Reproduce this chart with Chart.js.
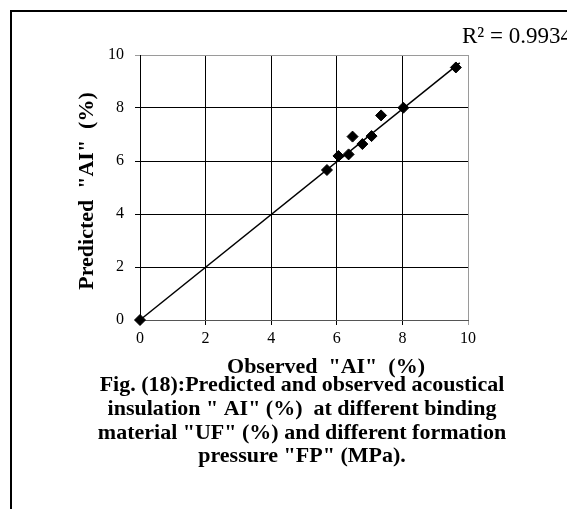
<!DOCTYPE html>
<html>
<head>
<meta charset="utf-8">
<script src="https://cdn.jsdelivr.net/npm/chart.js@4.4.1/dist/chart.umd.min.js"></script>
<style>
  html, body { margin: 0; padding: 0; background: #fff; }
  #wrap { width: 567px; height: 509px; position: relative; overflow: hidden; }
</style>
</head>
<body>
<div id="wrap"><canvas id="c" width="567" height="509"></canvas></div>
<script>
// Data
const observedAI  = [0, 5.70, 6.05, 6.36, 6.48, 6.78, 7.06, 7.35, 8.03, 9.63];
const predictedAI = [0, 5.66, 6.19, 6.25, 6.92, 6.64, 6.94, 7.72, 8.01, 9.53];
const trendX = [0, 9.75];
const trendY = [0, 9.70];
const axisTicks = [0, 2, 4, 6, 8, 10];
const rSquaredLabel = 'R² = 0.9934';
const xTitle = 'Observed  "AI"  (%)';
const yTitle = 'Predicted  "AI"  (%)';
const captionLines = [
  'Fig. (18):Predicted and observed acoustical',
  'insulation " AI" (%)  at different binding',
  'material "UF" (%) and different formation',
  'pressure "FP" (MPa).'
];

const SERIF = '"Liberation Serif", "Times New Roman", serif';

const pointData = observedAI.map((x, i) => ({ x: x, y: predictedAI[i] }));
const lineData = trendX.map((x, i) => ({ x: x, y: trendY[i] }));

const decorPlugin = {
  id: 'decor',
  afterDraw(chart) {
    const ctx = chart.ctx;
    ctx.save();
    // outer frame (top and left)
    ctx.fillStyle = '#000';
    ctx.fillRect(10, 10, 557, 2);
    ctx.fillRect(10, 10, 2, 499);

    // R² label
    ctx.fillStyle = '#000';
    ctx.font = '23px ' + SERIF;
    ctx.textAlign = 'left';
    ctx.textBaseline = 'alphabetic';
    ctx.fillText(rSquaredLabel, 462, 43);

    // x-axis title
    ctx.font = 'bold 22px ' + SERIF;
    ctx.textAlign = 'center';
    ctx.fillText(xTitle, 326, 373);

    // y-axis title (rotated)
    ctx.save();
    ctx.translate(93, 191);
    ctx.rotate(-Math.PI / 2);
    ctx.textAlign = 'center';
    ctx.fillText(yTitle, 0, 0);
    ctx.restore();

    // caption
    ctx.font = 'bold 22px ' + SERIF;
    ctx.textAlign = 'center';
    const baselines = [391, 415, 438.5, 462];
    captionLines.forEach((t, i) => ctx.fillText(t, 302, baselines[i]));
    ctx.restore();
  }
};

function gridColorX(c) {
  if (c.tick && c.tick.value === 10) return '#9a9a9a';
  return '#000';
}
function gridColorY(c) {
  if (c.tick && c.tick.value === 10) return '#9a9a9a';
  if (c.tick && c.tick.value === 0) return '#555';
  return '#000';
}

new Chart(document.getElementById('c'), {
  type: 'scatter',
  data: {
    datasets: [
      {
        label: 'points',
        data: pointData,
        pointStyle: 'rectRot',
        pointRadius: 5.5,
        pointBackgroundColor: '#000',
        pointBorderColor: '#000',
        pointBorderWidth: 1,
        showLine: false,
        clip: false,
        order: 0
      },
      {
        label: 'trend',
        data: lineData,
        showLine: true,
        borderColor: '#000',
        borderWidth: 1.5,
        pointRadius: 0,
        fill: false,
        clip: false,
        order: 1
      }
    ]
  },
  options: {
    responsive: false,
    animation: false,
    devicePixelRatio: 1,
    layout: { padding: { top: 55, right: 99, left: 0, bottom: 0 } },
    plugins: {
      legend: { display: false },
      tooltip: { enabled: false },
      title: { display: false }
    },
    scales: {
      x: {
        type: 'linear',
        min: 0, max: 10,
        afterBuildTicks: s => { s.ticks = axisTicks.map(v => ({ value: v })); },
        afterFit: s => { s.height = 189; },
        ticks: {
          color: '#000',
          font: { family: SERIF, size: 16 },
          padding: 4,
          maxRotation: 0
        },
        grid: { color: gridColorX, lineWidth: 1, tickLength: 5, drawTicks: true },
        border: { color: '#555', width: 1 }
      },
      y: {
        type: 'linear',
        min: 0, max: 10,
        afterBuildTicks: s => { s.ticks = axisTicks.map(v => ({ value: v })); },
        afterFit: s => { s.width = 140; },
        ticks: {
          color: '#000',
          font: { family: SERIF, size: 16 },
          padding: 11
        },
        grid: { color: gridColorY, lineWidth: 1, tickLength: 5, drawTicks: true },
        border: { color: '#000', width: 1 }
      }
    }
  },
  plugins: [decorPlugin]
});
</script>
</body>
</html>
